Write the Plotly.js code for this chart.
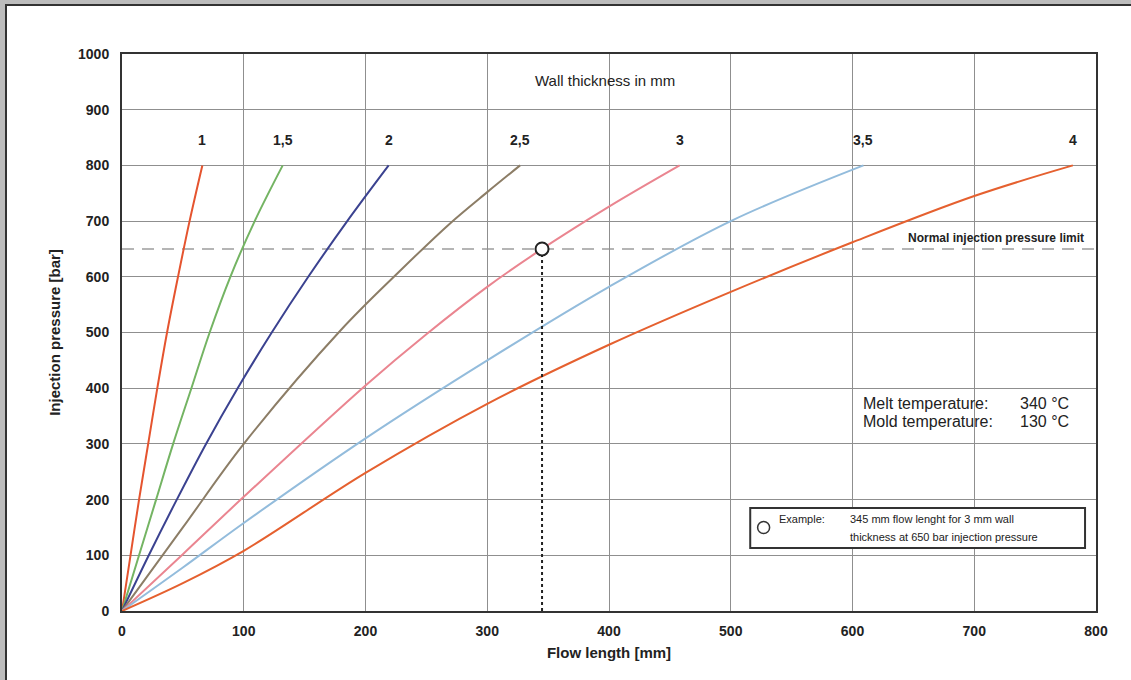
<!DOCTYPE html>
<html>
<head>
<meta charset="utf-8">
<script src="https://cdn.plot.ly/plotly-3.0.1.min.js"></script>
<style>
  html, body { margin: 0; padding: 0; background: #ffffff; }
  #wrap { position: relative; width: 1131px; height: 680px; background: #bdbdbd; overflow: hidden; }
  #inner { position: absolute; left: 5px; top: 4px; right: 0; bottom: 0; background: #ffffff;
           border-top: 2px solid #333333; border-left: 2px solid #333333; }
  #chart { position: absolute; left: 0; top: 0; width: 1131px; height: 680px; }
</style>
</head>
<body>
<div id="wrap"><div id="inner"></div><div id="chart"></div></div>
<script>
// ---- data ----
const wallLabels = ['1', '1,5', '2', '2,5', '3', '3,5', '4'];

const t1x  = [0, 7, 14, 21.5, 29, 37, 46, 55.5, 66];
const t1y  = [0, 100, 200, 300, 400, 500, 600, 700, 800];

const t15x = [0, 14, 28, 42, 57, 72, 89, 109, 132];
const t15y = [0, 100, 200, 300, 400, 500, 600, 700, 800];

const t2x  = [0, 22, 45, 69, 95, 123, 153, 185, 219];
const t2y  = [0, 100, 200, 300, 400, 500, 600, 700, 800];

const t25x = [0, 50, 100, 180, 228, 269, 300, 327];
const t25y = [0, 150, 300, 505, 610, 695, 752, 800];

const t3x  = [0, 50, 100, 200, 250, 300, 345, 400, 458];
const t3y  = [0, 102, 205, 405, 497, 582, 650, 726, 800];

const t35x = [0, 50, 100, 200, 300, 400, 500, 609];
const t35y = [0, 78, 158, 310, 450, 582, 700, 800];

const t4x  = [0, 50, 100, 200, 300, 400, 500, 600, 700, 781];
const t4y  = [0, 50, 108, 248, 372, 478, 573, 662, 745, 800];

const limitPressure = 650;
const exampleFlow = 345;
const examplePressure = 650;

const xTicks = [0, 100, 200, 300, 400, 500, 600, 700, 800];
const yTicks = [0, 100, 200, 300, 400, 500, 600, 700, 800, 900, 1000];

// ---- styling ----
const curveX = [t1x, t15x, t2x, t25x, t3x, t35x, t4x];
const curveY = [t1y, t15y, t2y, t25y, t3y, t35y, t4y];
const colors = ['#e5542f', '#74b463', '#3b4290', '#8c7d66', '#ea8590', '#93bcdc', '#e5602f'];

const FONT = 'Liberation Sans, Arial, sans-serif';

const traces = curveX.map((xs, i) => ({
  type: 'scatter', mode: 'lines', x: xs, y: curveY[i],
  line: { color: colors[i], width: 2, shape: 'spline', smoothing: 1 },
  hoverinfo: 'skip', showlegend: false
}));

// example drop line and marker
traces.push({
  type: 'scatter', mode: 'lines', x: [exampleFlow, exampleFlow], y: [0, examplePressure],
  line: { color: '#222222', width: 2, dash: 'dot' }, showlegend: false, hoverinfo: 'skip'
});
traces.push({
  type: 'scatter', mode: 'markers', x: [exampleFlow], y: [examplePressure],
  marker: { symbol: 'circle', size: 13, color: '#ffffff', line: { color: '#222222', width: 2 } },
  showlegend: false, hoverinfo: 'skip'
});

const annotations = [];
wallLabels.forEach((lab, i) => {
  const xs = curveX[i];
  annotations.push({
    x: xs[xs.length - 1], y: 845, xref: 'x', yref: 'y', text: lab, showarrow: false,
    xanchor: 'center', yanchor: 'middle',
    font: { family: FONT, size: 14, color: '#222222', weight: 'bold' }
  });
});
annotations.push({
  x: 397, y: 953, xref: 'x', yref: 'y', text: 'Wall thickness in mm', showarrow: false,
  xanchor: 'center', yanchor: 'middle', font: { family: FONT, size: 15, color: '#222222' }
});
annotations.push({
  x: 792, y: 670, xref: 'x', yref: 'y', text: 'Normal injection pressure limit', showarrow: false,
  xanchor: 'right', yanchor: 'middle', font: { family: FONT, size: 12, color: '#222222', weight: 'bold' }
});
annotations.push({
  x: 607, y: 372, xref: 'x', yref: 'y', text: 'Melt temperature:', showarrow: false,
  xanchor: 'left', yanchor: 'middle', font: { family: FONT, size: 16, color: '#222222' }
});
annotations.push({
  x: 736, y: 372, xref: 'x', yref: 'y', text: '340 °C', showarrow: false,
  xanchor: 'left', yanchor: 'middle', font: { family: FONT, size: 16, color: '#222222' }
});
annotations.push({
  x: 607, y: 341, xref: 'x', yref: 'y', text: 'Mold temperature:', showarrow: false,
  xanchor: 'left', yanchor: 'middle', font: { family: FONT, size: 16, color: '#222222' }
});
annotations.push({
  x: 736, y: 341, xref: 'x', yref: 'y', text: '130 °C', showarrow: false,
  xanchor: 'left', yanchor: 'middle', font: { family: FONT, size: 16, color: '#222222' }
});
annotations.push({
  x: 538, y: 165, xref: 'x', yref: 'y', text: 'Example:', showarrow: false,
  xanchor: 'left', yanchor: 'middle', font: { family: FONT, size: 11, color: '#222222' }
});
annotations.push({
  x: 596, y: 165, xref: 'x', yref: 'y', text: '345 mm flow lenght for 3 mm wall', showarrow: false,
  xanchor: 'left', yanchor: 'middle', font: { family: FONT, size: 11, color: '#222222' }
});
annotations.push({
  x: 596, y: 132, xref: 'x', yref: 'y', text: 'thickness at 650 bar injection pressure', showarrow: false,
  xanchor: 'left', yanchor: 'middle', font: { family: FONT, size: 11, color: '#222222' }
});

const shapes = [
  { type: 'line', xref: 'x', yref: 'y', x0: 0, x1: 800, y0: limitPressure, y1: limitPressure,
    line: { color: '#b5b5b5', width: 2, dash: '12px,8px' }, layer: 'below' },
  { type: 'rect', xref: 'x', yref: 'y', x0: 516, x1: 791, y0: 113, y1: 185,
    line: { color: '#333333', width: 2 }, fillcolor: '#ffffff', layer: 'above' },
  { type: 'circle', xref: 'x', yref: 'y', xsizemode: 'pixel', ysizemode: 'pixel',
    xanchor: 527, yanchor: 150, x0: -6, x1: 6, y0: -6, y1: 6,
    line: { color: '#333333', width: 1.5 }, fillcolor: '#ffffff', layer: 'above' }
];

const axisCommon = {
  showgrid: true, gridcolor: '#8f8f8f', gridwidth: 1,
  showline: true, linecolor: '#333333', linewidth: 2, mirror: true,
  zeroline: false, ticks: '',
  tickfont: { family: FONT, size: 14, color: '#222222', weight: 'bold' }
};

const layout = {
  width: 1131, height: 680,
  margin: { l: 122, r: 35, t: 54, b: 69 },
  paper_bgcolor: 'rgba(0,0,0,0)', plot_bgcolor: '#ffffff',
  showlegend: false,
  xaxis: Object.assign({}, axisCommon, {
    range: [0, 800], tickvals: xTicks, ticktext: xTicks.map(String),
    ticklabelstandoff: 6,
    title: { text: 'Flow length [mm]', font: { family: FONT, size: 15, color: '#222222', weight: 'bold' }, standoff: 10 }
  }),
  yaxis: Object.assign({}, axisCommon, {
    range: [0, 1000], tickvals: yTicks, ticktext: yTicks.map(String),
    ticklabelstandoff: 8,
    title: { text: 'Injection pressure [bar]', font: { family: FONT, size: 15, color: '#222222', weight: 'bold' }, standoff: 14 }
  }),
  annotations: annotations,
  shapes: shapes
};

Plotly.newPlot('chart', traces, layout, { staticPlot: true, displayModeBar: false });
</script>
</body>
</html>
